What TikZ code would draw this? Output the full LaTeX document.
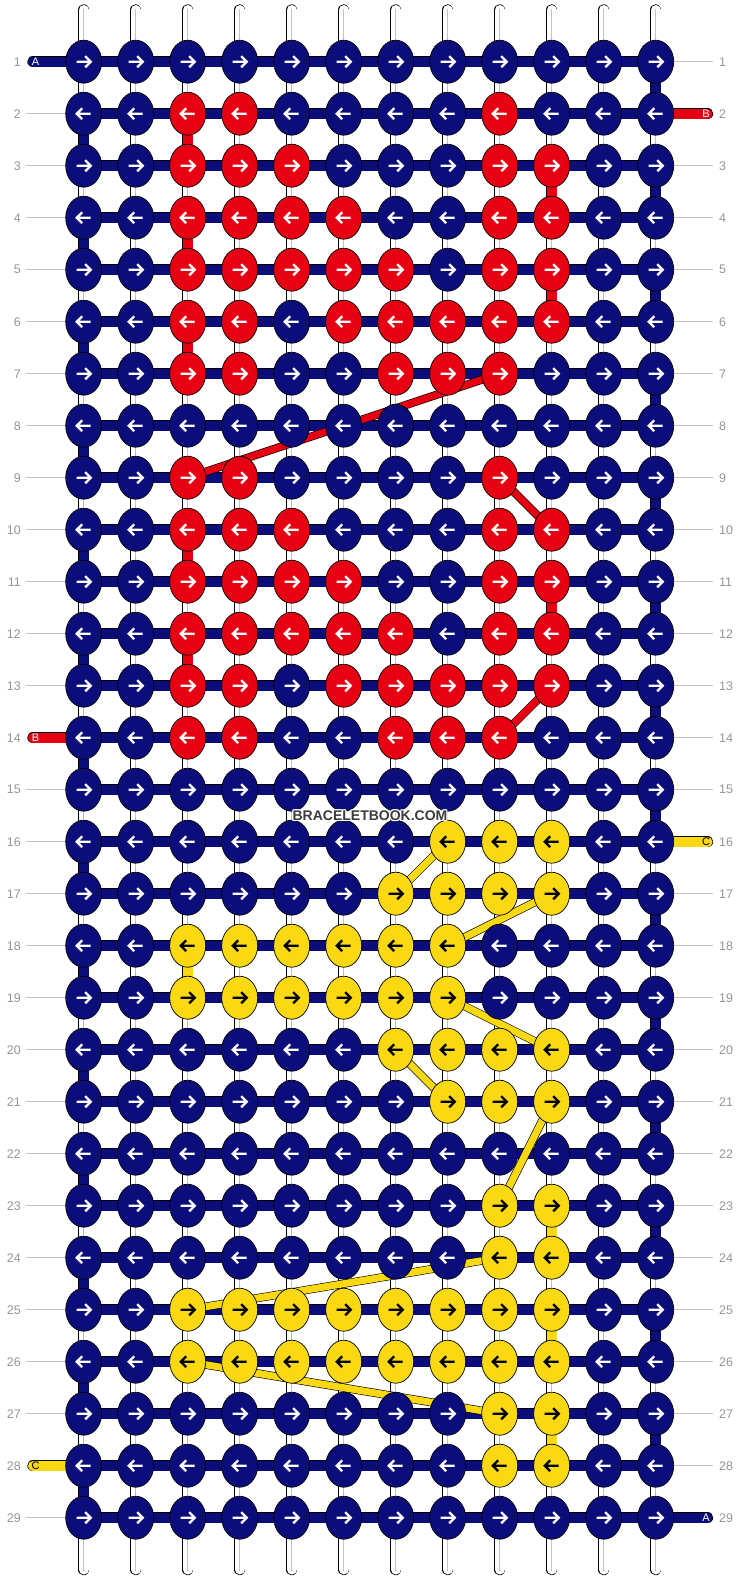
\documentclass[tikz,border=0pt]{standalone}
\usepackage{fontspec}
\setmainfont{Liberation Sans}
\usetikzlibrary{shapes.geometric}
\definecolor{bbnavy}{RGB}{11,14,122}
\definecolor{bbred}{RGB}{230,0,18}
\definecolor{bbyel}{RGB}{250,216,18}
\definecolor{bbgray}{RGB}{150,150,150}
\definecolor{bbline}{RGB}{195,195,195}
\definecolor{bbmark}{RGB}{60,60,60}
\pgfdeclarelayer{bg}
\pgfdeclarelayer{mid}
\pgfsetlayers{bg,mid,main}
\tikzset{
  knotbase/.style={ellipse, draw=black, line width=0.7pt, minimum width=36pt, minimum height=43pt, inner sep=0pt},
  knotN/.style={knotbase, fill=bbnavy},
  knotR/.style={knotbase, fill=bbred},
  knotY/.style={knotbase, fill=bbyel},
  arrbase/.style={line width=2.3pt, line join=miter},
  arrN/.style={arrbase, draw=white},
  arrR/.style={arrbase, draw=white},
  arrY/.style={arrbase, draw=black},
  colseg/.style={draw=black, line width=0.7pt, double=#1, double distance=10pt},
  tube/.style={colseg=white},
  tubeline/.style={draw=bbline, line width=0.9pt},
  band/.style={colseg=bbnavy},
  diag/.style={draw=black, line width=0.6pt, double=#1, double distance=7pt},
  guide/.style={draw=bbline, line width=0.9pt},
  rowlab/.style={text=bbgray, font=\fontsize{12.5}{12.5}\selectfont, inner sep=0pt},
  taillab/.style={text=#1, font=\fontsize{11}{11}\selectfont, inner sep=0pt},
}
\newcommand\krow[2]{%
  \foreach \kc [count=\cc] in {#2} {%
    \node[knot\kc] (k#1-\cc) at ({83.7+52*(\cc-1)},{61.7+52*(#1-1)}) {};
    \pgfmathsetmacro\dd{ifthenelse(mod(#1,2)==1,1,-1)}
    \draw[arr\kc] (k#1-\cc.center) ++({-7*\dd},0) -- ++({14*\dd},0) ++({-5.5*\dd},-5.5) -- ++({5.5*\dd},5.5) -- ++({-5.5*\dd},5.5);
  }%
}
\begin{document}
\begin{tikzpicture}[x=1pt,y=-1pt]
\useasboundingbox (0,0) rectangle (740,1580);
\begin{pgfonlayer}{bg}
\fill[white] (0,0) rectangle (740,1580);
\end{pgfonlayer}

% knots
\krow{1}{N,N,N,N,N,N,N,N,N,N,N,N}
\krow{2}{N,N,R,R,N,N,N,N,R,N,N,N}
\krow{3}{N,N,R,R,R,N,N,N,R,R,N,N}
\krow{4}{N,N,R,R,R,R,N,N,R,R,N,N}
\krow{5}{N,N,R,R,R,R,R,N,R,R,N,N}
\krow{6}{N,N,R,R,N,R,R,R,R,R,N,N}
\krow{7}{N,N,R,R,N,N,R,R,R,N,N,N}
\krow{8}{N,N,N,N,N,N,N,N,N,N,N,N}
\krow{9}{N,N,R,R,N,N,N,N,R,N,N,N}
\krow{10}{N,N,R,R,R,N,N,N,R,R,N,N}
\krow{11}{N,N,R,R,R,R,N,N,R,R,N,N}
\krow{12}{N,N,R,R,R,R,R,N,R,R,N,N}
\krow{13}{N,N,R,R,N,R,R,R,R,R,N,N}
\krow{14}{N,N,R,R,N,N,R,R,R,N,N,N}
\krow{15}{N,N,N,N,N,N,N,N,N,N,N,N}
\krow{16}{N,N,N,N,N,N,N,Y,Y,Y,N,N}
\krow{17}{N,N,N,N,N,N,Y,Y,Y,Y,N,N}
\krow{18}{N,N,Y,Y,Y,Y,Y,Y,N,N,N,N}
\krow{19}{N,N,Y,Y,Y,Y,Y,Y,N,N,N,N}
\krow{20}{N,N,N,N,N,N,Y,Y,Y,Y,N,N}
\krow{21}{N,N,N,N,N,N,N,Y,Y,Y,N,N}
\krow{22}{N,N,N,N,N,N,N,N,N,N,N,N}
\krow{23}{N,N,N,N,N,N,N,N,Y,Y,N,N}
\krow{24}{N,N,N,N,N,N,N,N,Y,Y,N,N}
\krow{25}{N,N,Y,Y,Y,Y,Y,Y,Y,Y,N,N}
\krow{26}{N,N,Y,Y,Y,Y,Y,Y,Y,Y,N,N}
\krow{27}{N,N,N,N,N,N,N,N,Y,Y,N,N}
\krow{28}{N,N,N,N,N,N,N,N,Y,Y,N,N}
\krow{29}{N,N,N,N,N,N,N,N,N,N,N,N}

\begin{pgfonlayer}{bg}
% top and bottom free strings
\foreach \c in {1,...,12} {
  \coordinate (top-\c) at ({83.7+52*(\c-1)},10);
  \coordinate (bot-\c) at ({83.7+52*(\c-1)},1569.5);
  \coordinate (topg-\c) at ({83.7+52*(\c-1)},9);
  \coordinate (botg-\c) at ({83.7+52*(\c-1)},1571);
  \draw[tube, line cap=round] (k1-\c.center) -- (top-\c);
  \draw[tube, line cap=round] (k29-\c.center) -- (bot-\c);
  \draw[tubeline] (k1-\c.center) -- (topg-\c);
  \draw[tubeline] (k29-\c.center) -- (botg-\c);
}
% vertical strings between knots
\foreach \r [evaluate=\r as \s using int(\r+1)] in {1,...,28} {
  \foreach \c in {1,...,12} {
    \draw[tube] (k\r-\c.center) -- (k\s-\c.center);
    \draw[tubeline] (k\r-\c.center) -- (k\s-\c.center);
  }
}
% background string turning at the edges
\foreach \r [evaluate=\r as \s using int(\r+1)] in {1,3,...,27}
  \draw[colseg=bbnavy] (k\r-12.center) -- (k\s-12.center);
\foreach \r [evaluate=\r as \s using int(\r+1)] in {2,4,...,28}
  \draw[colseg=bbnavy] (k\r-1.center) -- (k\s-1.center);
% red string turning
\foreach \r [evaluate=\r as \s using int(\r+1)] in {2,4,6,10,12}
  \draw[colseg=bbred] (k\r-3.center) -- (k\s-3.center);
\foreach \r [evaluate=\r as \s using int(\r+1)] in {3,5,11}
  \draw[colseg=bbred] (k\r-10.center) -- (k\s-10.center);
% yellow string turning
\draw[colseg=bbyel] (k18-3.center) -- (k19-3.center);
\foreach \r [evaluate=\r as \s using int(\r+1)] in {23,25,27}
  \draw[colseg=bbyel] (k\r-10.center) -- (k\s-10.center);
% horizontal rows
\foreach \r in {1,...,29}
  \draw[band] (k\r-1.center) -- (k\r-12.center);
% guide lines
\foreach \r in {2,...,13,15,16,17,18,19,20,21,22,23,24,25,26,27,29} {
  \coordinate (gl-\r) at (26,{61.7+52*(\r-1)});
  \draw[guide] (gl-\r) -- (k\r-1.center);
}
\foreach \r in {1,3,4,...,15,17,18,...,28} {
  \coordinate (gr-\r) at (713,{61.7+52*(\r-1)});
  \draw[guide] (k\r-12.center) -- (gr-\r);
}
% tails
\coordinate (tA1) at (33,61.7);
\coordinate (tB1) at (707.5,113.7);
\coordinate (tB2) at (33,737.7);
\coordinate (tC1) at (707.5,841.7);
\coordinate (tC2) at (33,1465.7);
\coordinate (tA2) at (707.5,1517.7);
\draw[colseg=bbnavy, line cap=round] (tA1) -- (k1-1.center);
\draw[colseg=bbred, line cap=round] (tB1) -- (k2-12.center);
\draw[colseg=bbred, line cap=round] (tB2) -- (k14-1.center);
\draw[colseg=bbyel, line cap=round] (tC1) -- (k16-12.center);
\draw[colseg=bbyel, line cap=round] (tC2) -- (k28-1.center);
\draw[colseg=bbnavy, line cap=round] (tA2) -- (k29-12.center);
\end{pgfonlayer}

% diagonal moves of the colour strings
\begin{pgfonlayer}{mid}
\draw[diag=bbred] (k7-9.center) -- (k9-3.center);
\draw[diag=bbred] (k9-9.center) -- (k10-10.center);
\draw[diag=bbred] (k13-10.center) -- (k14-9.center);
\draw[diag=bbyel] (k16-8.center) -- (k17-7.center);
\draw[diag=bbyel] (k17-10.center) -- (k18-8.center);
\draw[diag=bbyel] (k19-8.center) -- (k20-10.center);
\draw[diag=bbyel] (k20-7.center) -- (k21-8.center);
\draw[diag=bbyel] (k21-10.center) -- (k23-9.center);
\draw[diag=bbyel] (k24-9.center) -- (k25-3.center);
\draw[diag=bbyel] (k26-3.center) -- (k27-9.center);
\end{pgfonlayer}

% tail letters
\node[taillab=white] (lA1) at (35.5,62) {A};
\node[taillab=white] (lB1) at (706,114) {B};
\node[taillab=white] (lB2) at (35.5,738) {B};
\node[taillab=black] (lC1) at (706,842) {C};
\node[taillab=black] (lC2) at (35.5,1466) {C};
\node[taillab=white] (lA2) at (706,1518) {A};

% row numbers
\foreach \r in {1,...,29} {
  \node[rowlab, anchor=east] (nl-\r) at (21,{61.7+52*(\r-1)}) {\r};
  \node[rowlab, anchor=west] (nr-\r) at (719,{61.7+52*(\r-1)}) {\r};
}

% watermark
\foreach \dx/\dy in {-1/0,1/0,0/-1,0/1,-1/-1,1/1,-1/1,1/-1}
  \node[text=white, font=\bfseries\fontsize{14}{14}\selectfont, inner sep=0pt] at ({370+\dx},{815.5+\dy}) {BRACELETBOOK.COM};
\node[text=bbmark, font=\bfseries\fontsize{14}{14}\selectfont, inner sep=0pt] (mark) at (370,815.5) {BRACELETBOOK.COM};
\end{tikzpicture}
\end{document}
